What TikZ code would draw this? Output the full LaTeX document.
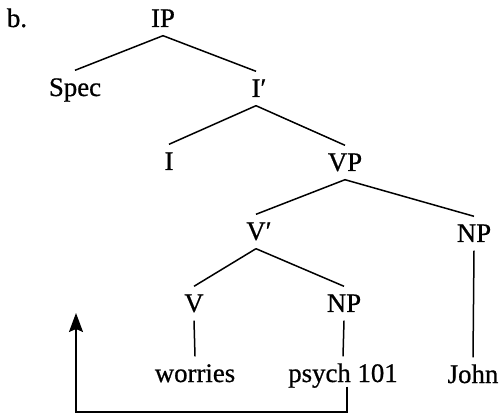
\documentclass[tikz,border=0pt]{standalone}
\usepackage{fontspec}
\setmainfont{Liberation Serif}[FakeBold=0.7]
\usetikzlibrary{arrows.meta}
\begin{document}
\begin{tikzpicture}[x=1pt,y=-1pt,
  lab/.style={font=\fontsize{26.8}{31}\selectfont, inner xsep=0pt, inner ysep=1.5pt,
    text height=24pt, text depth=7pt, anchor=base},
  branch/.style={line width=1.5pt},
  move/.style={line width=1.7pt, -{Stealth[length=19pt,width=14pt,inset=3pt]}}]
\useasboundingbox (0,0) rectangle (501,414);
\node[lab] (b) at (17,27) {b.};
\node[lab] (ip) at (163,27) {IP};
\node[lab] (spec) at (75,96) {Spec};
\node[lab] (ibar) at (256,97) {I\rlap{′}};
\node[lab] (i) at (169,170) {I};
\node[lab] (vp) at (345,171) {VP};
\node[lab] (vbar) at (256,240) {V\rlap{′}};
\node[lab] (np1) at (474,242) {NP};
\node[lab] (v) at (194,312) {V};
\node[lab] (np2) at (344,312) {NP};
\node[lab] (worries) at (195,382) {worries};
\node[lab] (psych) at (343,382) {psych 101};
\node[lab] (john) at (473,383) {John};
\draw[branch] (ip.south) -- (spec.north);
\draw[branch] (ip.south) -- (ibar.north);
\draw[branch] (ibar.south) -- (i.north);
\draw[branch] (ibar.south) -- (vp.north);
\draw[branch] (vp.south) -- (vbar.north);
\draw[branch] (vp.south) -- (np1.north);
\draw[branch] (vbar.south) -- (v.north);
\draw[branch] (vbar.south) -- (np2.north);
\draw[branch] (v.south) -- (worries.north);
\draw[branch] (np2.south) -- (psych.north);
\draw[branch] (np1.south) -- (john.north);
\coordinate (corner) at (76,412);
\coordinate (tip) at (76,313);
\draw[move] ([xshift=4pt,yshift=4pt]psych.south) -- ([xshift=4pt]psych.south |- corner) -- (corner) -- (tip);
\end{tikzpicture}
\end{document}
